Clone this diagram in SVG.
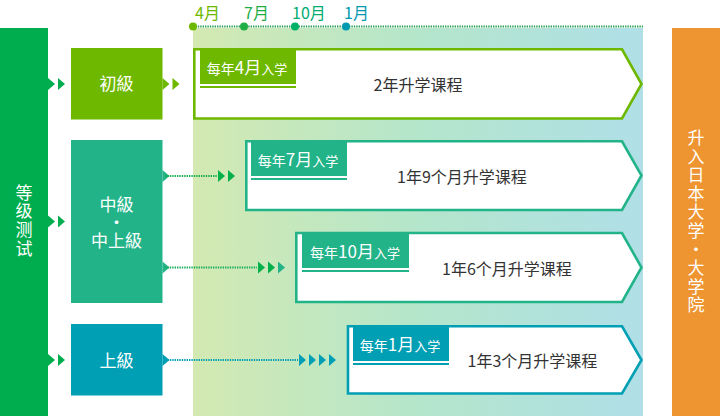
<svg xmlns="http://www.w3.org/2000/svg" width="720" height="416" viewBox="0 0 720 416">
<defs>
  <linearGradient id="bg" x1="0" y1="0" x2="1" y2="0">
    <stop offset="0" stop-color="#d4e9b2"/>
    <stop offset="0.5" stop-color="#b4e6cb"/>
    <stop offset="1" stop-color="#b0dfe7"/>
  </linearGradient>
  <polygon id="tri" points="0,-6 7,0 0,6"/>
</defs>
<style>
  text { font-family: "Noto Sans CJK SC", "Noto Sans CJK JP", "Noto Sans", sans-serif; }
  .lbl { font-size: 17px; fill: #ffffff; text-anchor: middle; }
  .vert { font-size: 17px; fill: #ffffff; writing-mode: vertical-rl; text-anchor: middle; letter-spacing: 1.6px; }
  .mon { font-size: 16px; }
  .course { font-size: 16px; fill: #333333; text-anchor: middle; }
  .tag { fill: #ffffff; text-anchor: middle; }
  .box { fill: #ffffff; stroke-width: 2.6; }
  .dot { stroke-width: 2; stroke-dasharray: 1.4 1; fill: none; }
  .s { font-size: 14px; }
  .b { font-size: 17px; }
  .t { font-size: 13px; }
</style>

<rect x="193" y="28" width="450" height="388" fill="url(#bg)"/>

<g id="timeline">
  <line x1="193" y1="26.5" x2="643" y2="26.5" class="dot" stroke="#2a9f55"/>
  <circle cx="193" cy="26.5" r="4" fill="#6eb800"/>
  <circle cx="244" cy="26.5" r="4" fill="#1fae46"/>
  <circle cx="295" cy="26.5" r="4" fill="#00b067"/>
  <circle cx="346" cy="26.5" r="4" fill="#0099b0"/>
  <text x="195" y="18.5" class="mon" fill="#6eb800">4月</text>
  <text x="244" y="18.5" class="mon" fill="#1fae46">7月</text>
  <text x="292" y="18.5" class="mon" fill="#00ac70">10月</text>
  <text x="344" y="18.5" class="mon" fill="#0099b0">1月</text>
</g>

<g id="test">
  <rect x="0" y="28" width="48" height="388" fill="#00ad4e"/>
  <text x="24" y="221" class="vert">等级测试</text>
</g>

<g id="univ">
  <rect x="672" y="28" width="48" height="388" fill="#ee9430"/>
  <text x="696" y="222" class="vert">升入日本大学・大学院</text>
</g>

<g id="beginner">
  <rect x="71" y="48" width="91.5" height="71.5" fill="#6eb800"/>
  <text x="116.5" y="90" class="lbl">初級</text>
</g>

<g id="intermediate">
  <rect x="71" y="140" width="91.5" height="163" fill="#22b389"/>
  <text x="116.5" y="211" class="lbl"><tspan x="116.5">中級</tspan><tspan x="116.5" dy="18">・</tspan><tspan x="116.5" dy="18">中上級</tspan></text>
</g>

<g id="advanced">
  <rect x="71" y="324" width="91.5" height="71.5" fill="#009fb4"/>
  <text x="116.5" y="367" class="lbl">上級</text>
</g>

<g id="course-apr">
  <path d="M194.3,49.3 H622 L641.5,84 L622,118.5 H194.3 Z" class="box" stroke="#6eb800"/>
  <rect x="200" y="50" width="96" height="34" fill="#6eb800"/>
  <rect x="200" y="86" width="96" height="2" fill="#6eb800"/>
  <text x="247" y="73.5" class="tag"><tspan class="s">每年</tspan><tspan class="b">4月</tspan><tspan class="t">入学</tspan></text>
  <text x="418" y="91" class="course">2年升学课程</text>
</g>

<g id="course-jul">
  <path d="M246.3,141.3 H622 L641.5,175.5 L622,210 H246.3 Z" class="box" stroke="#22b389"/>
  <rect x="251" y="142" width="96" height="34" fill="#22b389"/>
  <rect x="251" y="178" width="96" height="2" fill="#22b389"/>
  <text x="298" y="165.5" class="tag"><tspan class="s">每年</tspan><tspan class="b">7月</tspan><tspan class="t">入学</tspan></text>
  <text x="462" y="183" class="course">1年9个月升学课程</text>
</g>

<g id="course-oct">
  <path d="M296.3,233 H622 L641.5,267.5 L622,302 H296.3 Z" class="box" stroke="#22b389"/>
  <rect x="302" y="234" width="107" height="34" fill="#22b389"/>
  <rect x="302" y="270" width="107" height="2" fill="#22b389"/>
  <text x="355" y="257.5" class="tag"><tspan class="s">每年</tspan><tspan class="b">10月</tspan><tspan class="t">入学</tspan></text>
  <text x="507" y="275" class="course">1年6个月升学课程</text>
</g>

<g id="course-jan">
  <path d="M348,326.3 H622 L641.5,360 L622,393.5 H348 Z" class="box" stroke="#009fb4"/>
  <rect x="353" y="327" width="96" height="34" fill="#009fb4"/>
  <rect x="353" y="363" width="96" height="2" fill="#009fb4"/>
  <text x="400" y="350.5" class="tag"><tspan class="s">每年</tspan><tspan class="b">1月</tspan><tspan class="t">入学</tspan></text>
  <text x="532.5" y="367" class="course">1年3个月升学课程</text>
</g>

<g id="connectors">
  <g fill="#00ad4e">
    <use href="#tri" x="48" y="84"/><use href="#tri" x="58" y="84"/>
    <use href="#tri" x="48" y="221.5"/><use href="#tri" x="58" y="221.5"/>
    <use href="#tri" x="48" y="360"/><use href="#tri" x="58" y="360"/>
  </g>
  <g fill="#6eb800">
    <use href="#tri" x="162.5" y="84"/><use href="#tri" x="172.5" y="84"/>
  </g>
  <use href="#tri" x="162.5" y="176" fill="#22b389"/>
  <line x1="165" y1="176" x2="217" y2="176" class="dot" stroke="#1aad52"/>
  <g fill="#00b04a">
    <use href="#tri" x="218" y="176"/><use href="#tri" x="228" y="176"/>
  </g>
  <use href="#tri" x="162.5" y="267.5" fill="#22b389"/>
  <line x1="165" y1="267.5" x2="257" y2="267.5" class="dot" stroke="#1aad5c"/>
  <g fill="#00b04a">
    <use href="#tri" x="258" y="267.5"/><use href="#tri" x="268" y="267.5"/>
  </g>
  <use href="#tri" x="278" y="267.5" fill="#22b389"/>
  <g fill="#009fb4">
    <use href="#tri" x="162.5" y="360"/>
    <use href="#tri" x="299" y="360"/><use href="#tri" x="309" y="360"/>
    <use href="#tri" x="319" y="360"/><use href="#tri" x="329" y="360"/>
  </g>
  <line x1="165" y1="360" x2="298" y2="360" class="dot" stroke="#009fb4"/>
</g>
</svg>
